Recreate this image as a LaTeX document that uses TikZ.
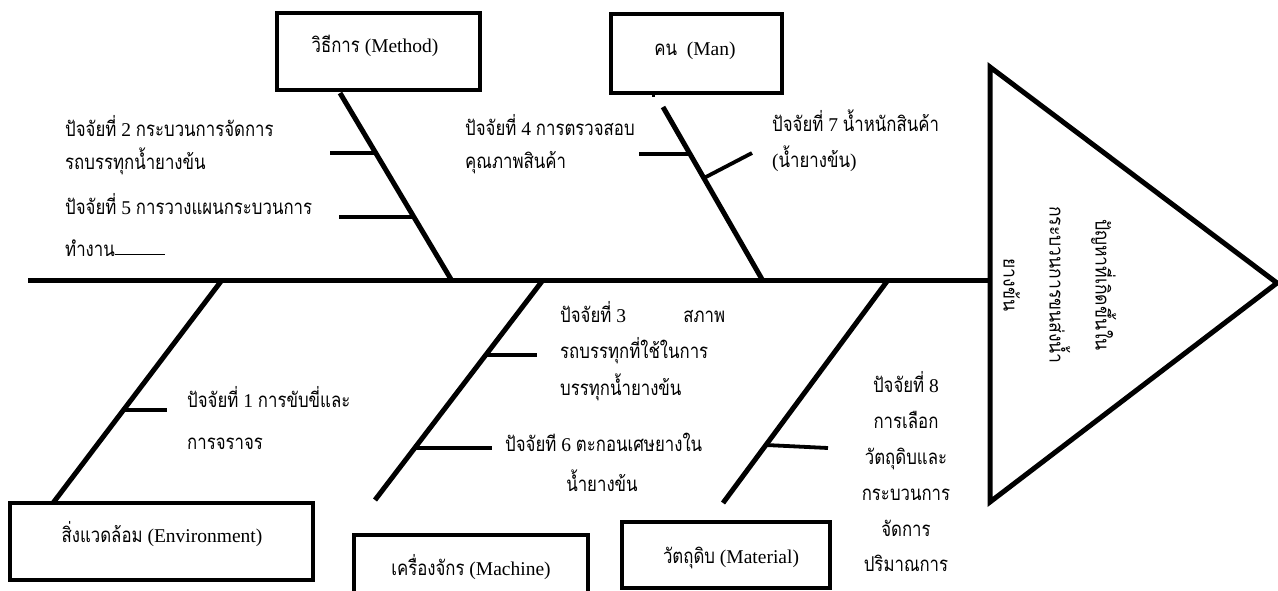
\documentclass[tikz,border=0pt]{standalone}
\usepackage{fontspec}
\setmainfont{Liberation Serif}
\newfontfamily\thf[Script=Thai,Scale=1.05,FakeStretch=0.82]{Loma}
\newfontfamily\thfhead[Script=Thai,Scale=1.0,FakeStretch=0.9]{Loma}
\newcommand\T[1]{{\thf #1}}
\begin{document}
\begin{tikzpicture}[x=1pt,y=-1pt,
  frame/.style={draw, line width=3.2pt, minimum width=#1, inner sep=0pt},
  bone/.style={line width=5pt},
  twig/.style={line width=3.8pt},
  spine/.style={line width=5pt},
  txt/.style={anchor=base west, inner sep=0pt, font=\fontsize{19.5}{23}\selectfont},
  ctxt/.style={anchor=base, inner sep=0pt, font=\fontsize{19.5}{23}\selectfont}]
\clip (0,0) rectangle (1278,590);
\fill[white] (0,0) rectangle (1278,590);

% head of the fish
\draw[line width=5pt, line join=miter] (990,67) coordinate (tA) -- (1277,283) coordinate (tB) -- (990,502) coordinate (tC) -- cycle;
\node[rotate=-90, align=center, inner sep=0pt, font=\thfhead\fontsize{19.5}{46}\selectfont] (problem) at (1060,285)
  {ปัญหาที่เกิดขึ้นใน\\กระบวนการขนส่งน้ำ\\ยางข้น};

% spine
\coordinate (sL) at (28,280);
\coordinate (sR) at (990,280);
\draw[spine] (sL) -- (sR);

% category boxes
\node[frame=203pt, minimum height=77pt] (methodbox) at (378.5,51.5) {};
\node[frame=171pt, minimum height=79pt] (manbox) at (696.5,53.5) {};
\node[frame=303pt, minimum height=77pt] (envbox) at (161.5,541.5) {};
\node[frame=234pt, minimum height=80pt] (machbox) at (471,575) {};
\node[frame=208pt, minimum height=66pt] (matbox) at (726,555) {};

\node[ctxt] (methodlbl) at (375,52) {\T{วิธีการ} (Method)};
\node[ctxt] (manlbl) at (695,55) {\T{คน}\ \ (Man)};
\node[ctxt] (envlbl) at (162,542) {\T{สิ่งแวดล้อม} (Environment)};
\node[ctxt] (machlbl) at (471,575) {\T{เครื่องจักร} (Machine)};
\node[ctxt] (matlbl) at (731,563) {\T{วัตถุดิบ} (Material)};

% Method bone
\coordinate (mt) at (340,93);
\coordinate (mb) at (452,281);
\draw[bone] (mt) -- (mb);
\coordinate (m1a) at (330,153); \coordinate (m1b) at (376,153);
\coordinate (m2a) at (339,217); \coordinate (m2b) at (414,217);
\draw[twig] (m1a) -- (m1b);
\draw[twig] (m2a) -- (m2b);
\node[txt] (f2a) at (65,136) {\T{ปัจจัยที่} 2 \T{กระบวนการจัดการ}};
\node[txt] (f2b) at (65,169) {\T{รถบรรทุกน้ำยางข้น}};
\node[txt] (f5a) at (65,214) {\T{ปัจจัยที่} 5 \T{การวางแผนกระบวนการ}};
\node[txt] (f5b) at (65,256) {\T{ทำงาน}\rule[1pt]{50pt}{1.3pt}};

% Man bone
\coordinate (nstub) at (653,93);
\draw[line width=3pt] (nstub) -- ++(0,4);
\coordinate (nt) at (663,107);
\coordinate (nb) at (763,281);
\draw[bone] (nt) -- (nb);
\coordinate (n1a) at (639,154); \coordinate (n1b) at (690,154);
\coordinate (n2a) at (704,178); \coordinate (n2b) at (752,153);
\draw[twig] (n1a) -- (n1b);
\draw[twig] (n2a) -- (n2b);
\node[txt] (f4a) at (465,135) {\T{ปัจจัยที่} 4 \T{การตรวจสอบ}};
\node[txt] (f4b) at (465,168) {\T{คุณภาพสินค้า}};
\node[txt] (f7a) at (772,131) {\T{ปัจจัยที่} 7 \T{น้ำหนักสินค้า}};
\node[txt] (f7b) at (772,167) {(\T{น้ำยางข้น})};

% Environment bone
\coordinate (et) at (222,280);
\coordinate (eb) at (53,503);
\draw[bone] (et) -- (eb);
\coordinate (e1a) at (124,410); \coordinate (e1b) at (167,410);
\draw[twig] (e1a) -- (e1b);
\node[txt] (f1a) at (187,407) {\T{ปัจจัยที่} 1 \T{การขับขี่และ}};
\node[txt] (f1b) at (187,449) {\T{การจราจร}};

% Machine bone
\coordinate (ct) at (543,280);
\coordinate (cb) at (375,500);
\draw[bone] (ct) -- (cb);
\coordinate (c1a) at (486,355); \coordinate (c1b) at (537,355);
\coordinate (c2a) at (415,448); \coordinate (c2b) at (492,448);
\draw[twig] (c1a) -- (c1b);
\draw[twig] (c2a) -- (c2b);
\node[txt] (f3a) at (560,322) {\makebox[165pt][l]{\T{ปัจจัยที่}~3\hfill\T{สภาพ}}};
\node[txt] (f3b) at (560,358) {\T{รถบรรทุกที่ใช้ในการ}};
\node[txt] (f3c) at (560,395) {\T{บรรทุกน้ำยางข้น}};
\node[txt] (f6a) at (505,451) {\T{ปัจจัยที} 6 \T{ตะกอนเศษยางใน}};
\node[ctxt] (f6b) at (602,491) {\T{น้ำยางข้น}};

% Material bone
\coordinate (rt) at (888,280);
\coordinate (rb) at (723,503);
\draw[bone] (rt) -- (rb);
\coordinate (r1a) at (766,445); \coordinate (r1b) at (828,448);
\draw[twig] (r1a) -- (r1b);
\node[ctxt] (f8a) at (906,392) {\T{ปัจจัยที่} 8};
\node[ctxt] (f8b) at (906,428) {\T{การเลือก}};
\node[ctxt] (f8c) at (906,464) {\T{วัตถุดิบและ}};
\node[ctxt] (f8d) at (906,500) {\T{กระบวนการ}};
\node[ctxt] (f8e) at (906,536) {\T{จัดการ}};
\node[ctxt] (f8f) at (906,571) {\T{ปริมาณการ}};
\end{tikzpicture}
\end{document}
